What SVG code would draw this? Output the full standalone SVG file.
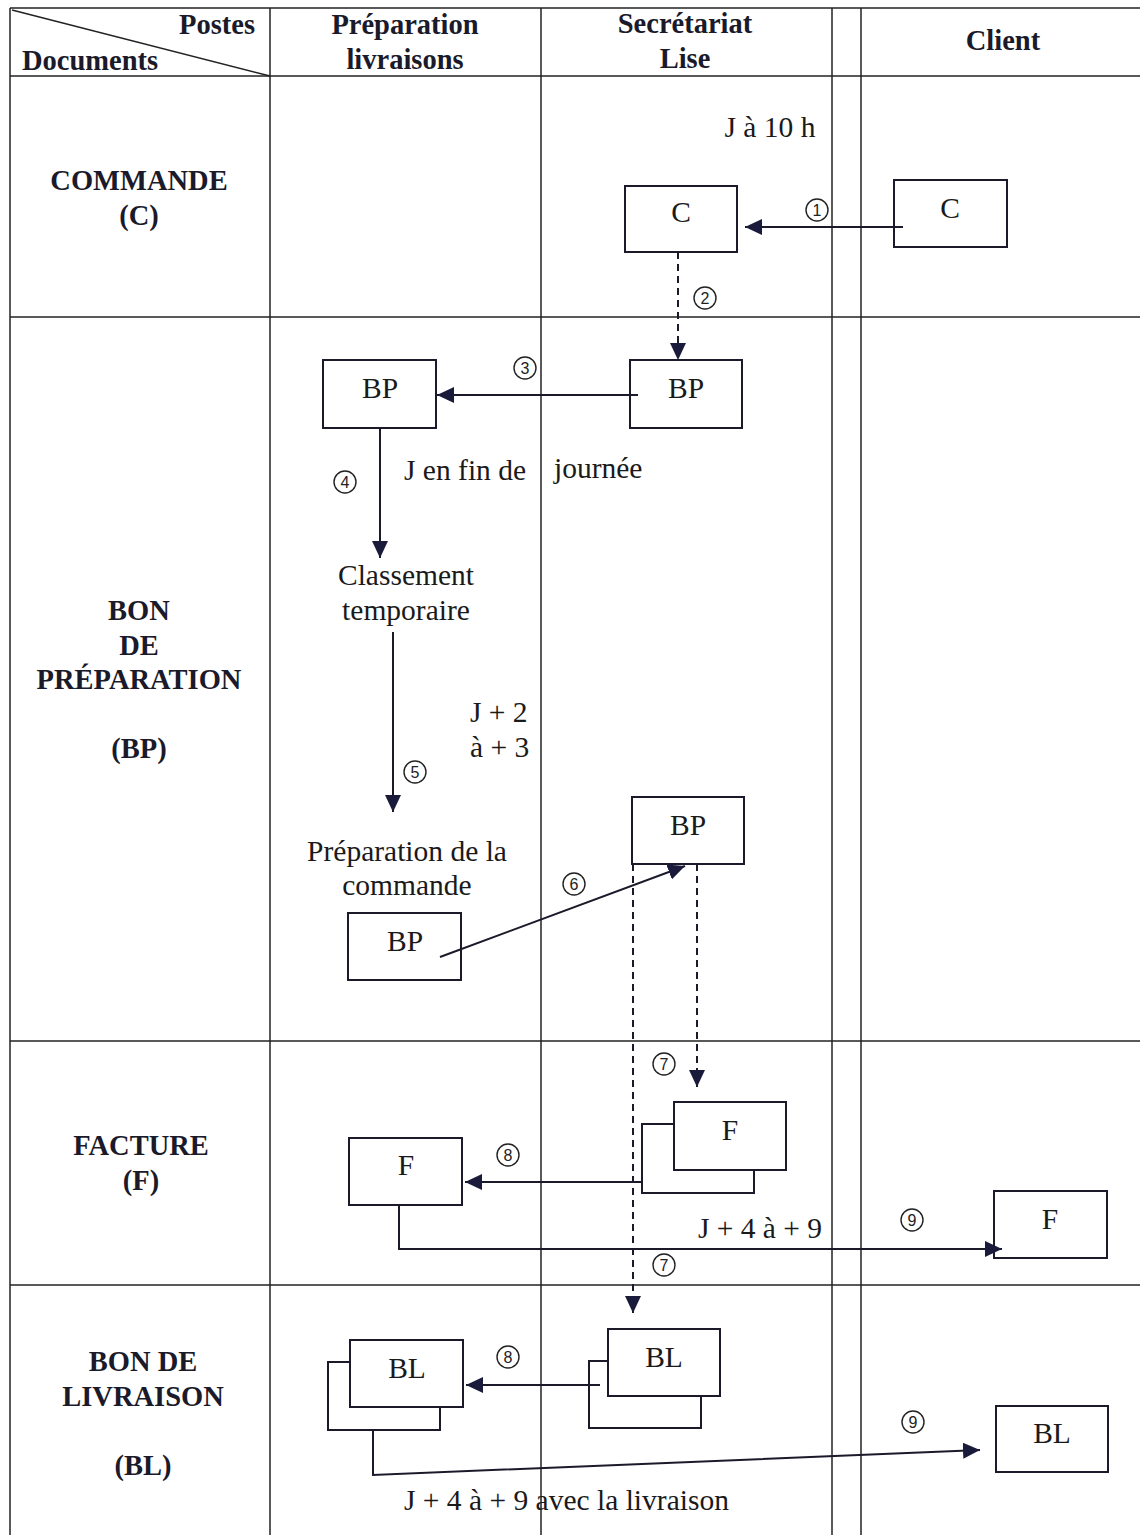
<svg xmlns="http://www.w3.org/2000/svg" width="1140" height="1535" viewBox="0 0 1140 1535">
<style>
.grid{stroke:#222;stroke-width:1.5;fill:none}
.box{fill:#fff;stroke:#1a1a2a;stroke-width:2}
.t{font-family:"Liberation Serif","Times New Roman",serif;font-size:29.5px;fill:#1a1a1a}
.h{font-family:"Liberation Serif","Times New Roman",serif;font-size:28.5px;font-weight:bold;fill:#1a1a2a}
.c{stroke:#1a1a2a;stroke-width:2;fill:none}
.d{stroke:#1a1a2a;stroke-width:2;fill:none;stroke-dasharray:7,5}
.n circle{fill:#fff;stroke:#222;stroke-width:1.4}
.n text{font-family:"Liberation Sans",Arial,sans-serif;font-size:16px;fill:#222;text-anchor:middle}
</style>
<defs>
<marker id="ah" markerUnits="userSpaceOnUse" markerWidth="18" markerHeight="16" refX="17" refY="8" orient="auto">
<path d="M0,0 L17,8 L0,16 z" fill="#1a1a3a"/>
</marker>
</defs>
<rect width="1140" height="1535" fill="#fff"/>
<g id="table">
<line class="grid" x1="10" y1="8" x2="1140" y2="8"/>
<line class="grid" x1="10" y1="8" x2="10" y2="1535"/>
<line class="grid" x1="270" y1="8" x2="270" y2="1535"/>
<line class="grid" x1="541" y1="8" x2="541" y2="1535"/>
<line class="grid" x1="832" y1="8" x2="832" y2="1535"/>
<line class="grid" x1="861" y1="8" x2="861" y2="1535"/>
<line class="grid" x1="10" y1="76" x2="1140" y2="76"/>
<line class="grid" x1="10" y1="317" x2="1140" y2="317"/>
<line class="grid" x1="10" y1="1041" x2="1140" y2="1041"/>
<line class="grid" x1="10" y1="1285" x2="1140" y2="1285"/>
<line class="grid" x1="12" y1="10" x2="270" y2="76"/>
<text class="h" x="255" y="34" text-anchor="end">Postes</text>
<text class="h" x="22" y="70">Documents</text>
<text class="h" x="405" y="34" text-anchor="middle">Préparation</text>
<text class="h" x="405" y="69" text-anchor="middle">livraisons</text>
<text class="h" x="685" y="33" text-anchor="middle">Secrétariat</text>
<text class="h" x="685" y="68" text-anchor="middle">Lise</text>
<text class="h" x="1003" y="50" text-anchor="middle">Client</text>
<text class="h" x="139" y="190" text-anchor="middle">COMMANDE</text>
<text class="h" x="139" y="225" text-anchor="middle">(C)</text>
<text class="h" x="139" y="620" text-anchor="middle">BON</text>
<text class="h" x="139" y="655" text-anchor="middle">DE</text>
<text class="h" x="139" y="689" text-anchor="middle">PRÉPARATION</text>
<text class="h" x="139" y="758" text-anchor="middle">(BP)</text>
<text class="h" x="141" y="1155" text-anchor="middle">FACTURE</text>
<text class="h" x="141" y="1190" text-anchor="middle">(F)</text>
<text class="h" x="143" y="1371" text-anchor="middle">BON DE</text>
<text class="h" x="143" y="1406" text-anchor="middle">LIVRAISON</text>
<text class="h" x="143" y="1475" text-anchor="middle">(BL)</text>
</g>
<g id="node-c-secr"><rect class="box" x="625" y="186" width="112" height="66"/><text class="t" x="681" y="222" text-anchor="middle">C</text></g>
<g id="node-c-client"><rect class="box" x="894" y="180" width="113" height="67"/><text class="t" x="950" y="218" text-anchor="middle">C</text></g>
<g id="node-bp-secr1"><rect class="box" x="630" y="360" width="112" height="68"/><text class="t" x="686" y="398" text-anchor="middle">BP</text></g>
<g id="node-bp-prep1"><rect class="box" x="323" y="360" width="113" height="68"/><text class="t" x="380" y="398" text-anchor="middle">BP</text></g>
<g id="node-classement"><text class="t" x="406" y="585" text-anchor="middle">Classement</text><text class="t" x="406" y="620" text-anchor="middle">temporaire</text></g>
<g id="node-preparation"><text class="t" x="407" y="861" text-anchor="middle">Préparation de la</text><text class="t" x="407" y="895" text-anchor="middle">commande</text></g>
<g id="node-bp-prep2"><rect class="box" x="348" y="913" width="113" height="67"/><text class="t" x="405" y="951" text-anchor="middle">BP</text></g>
<g id="node-bp-secr2"><rect class="box" x="632" y="797" width="112" height="67"/><text class="t" x="688" y="835" text-anchor="middle">BP</text></g>
<g id="node-f-secr"><rect class="box" x="642" y="1124" width="112" height="69"/><rect class="box" x="674" y="1102" width="112" height="68"/><text class="t" x="730" y="1140" text-anchor="middle">F</text></g>
<g id="node-f-prep"><rect class="box" x="349" y="1138" width="113" height="67"/><text class="t" x="406" y="1175" text-anchor="middle">F</text></g>
<g id="node-f-client"><rect class="box" x="994" y="1191" width="113" height="67"/><text class="t" x="1050" y="1229" text-anchor="middle">F</text></g>
<g id="node-bl-secr"><rect class="box" x="589" y="1361" width="112" height="67"/><rect class="box" x="608" y="1329" width="112" height="67"/><text class="t" x="664" y="1367" text-anchor="middle">BL</text></g>
<g id="node-bl-prep"><rect class="box" x="328" y="1362" width="112" height="68"/><rect class="box" x="350" y="1340" width="113" height="67"/><text class="t" x="407" y="1378" text-anchor="middle">BL</text></g>
<g id="node-bl-client"><rect class="box" x="996" y="1406" width="112" height="66"/><text class="t" x="1052" y="1443" text-anchor="middle">BL</text></g>
<g id="connectors">
<line class="c" x1="903" y1="227" x2="745" y2="227" marker-end="url(#ah)"/>
<line class="d" x1="678" y1="252" x2="678" y2="360" marker-end="url(#ah)"/>
<line class="c" x1="638" y1="395" x2="437" y2="395" marker-end="url(#ah)"/>
<line class="c" x1="380" y1="428" x2="380" y2="558" marker-end="url(#ah)"/>
<line class="c" x1="393" y1="632" x2="393" y2="812" marker-end="url(#ah)"/>
<line class="c" x1="440" y1="957" x2="685" y2="866" marker-end="url(#ah)"/>
<line class="d" x1="697" y1="864" x2="697" y2="1087" marker-end="url(#ah)"/>
<line class="d" x1="633" y1="864" x2="633" y2="1313" marker-end="url(#ah)"/>
<line class="c" x1="641" y1="1182" x2="465" y2="1182" marker-end="url(#ah)"/>
<polyline class="c" points="399,1205 399,1249 1002,1249" marker-end="url(#ah)"/>
<line class="c" x1="600" y1="1385" x2="466" y2="1385" marker-end="url(#ah)"/>
<polyline class="c" points="373,1430 373,1475 980,1450" marker-end="url(#ah)"/>
<g class="n"><circle cx="817" cy="210" r="11"/><text x="817" y="216">1</text></g>
<g class="n"><circle cx="705" cy="298" r="11"/><text x="705" y="304">2</text></g>
<g class="n"><circle cx="525" cy="368" r="11"/><text x="525" y="374">3</text></g>
<g class="n"><circle cx="345" cy="482" r="11"/><text x="345" y="488">4</text></g>
<g class="n"><circle cx="415" cy="772" r="11"/><text x="415" y="778">5</text></g>
<g class="n"><circle cx="574" cy="884" r="11"/><text x="574" y="890">6</text></g>
<g class="n"><circle cx="664" cy="1064" r="11"/><text x="664" y="1070">7</text></g>
<g class="n"><circle cx="664" cy="1265" r="11"/><text x="664" y="1271">7</text></g>
<g class="n"><circle cx="508" cy="1155" r="11"/><text x="508" y="1161">8</text></g>
<g class="n"><circle cx="508" cy="1357" r="11"/><text x="508" y="1363">8</text></g>
<g class="n"><circle cx="912" cy="1220" r="11"/><text x="912" y="1226">9</text></g>
<g class="n"><circle cx="913" cy="1422" r="11"/><text x="913" y="1428">9</text></g>
<text class="t" x="770" y="137" text-anchor="middle">J à 10 h</text>
<text class="t" x="404" y="480">J en fin de</text>
<text class="t" x="554" y="478">journée</text>
<text class="t" x="470" y="722">J + 2</text>
<text class="t" x="470" y="757">à + 3</text>
<text class="t" x="760" y="1238" text-anchor="middle">J + 4 à + 9</text>
<text class="t" x="404" y="1510">J + 4 à + 9 avec la livraison</text>
</g>
</svg>
